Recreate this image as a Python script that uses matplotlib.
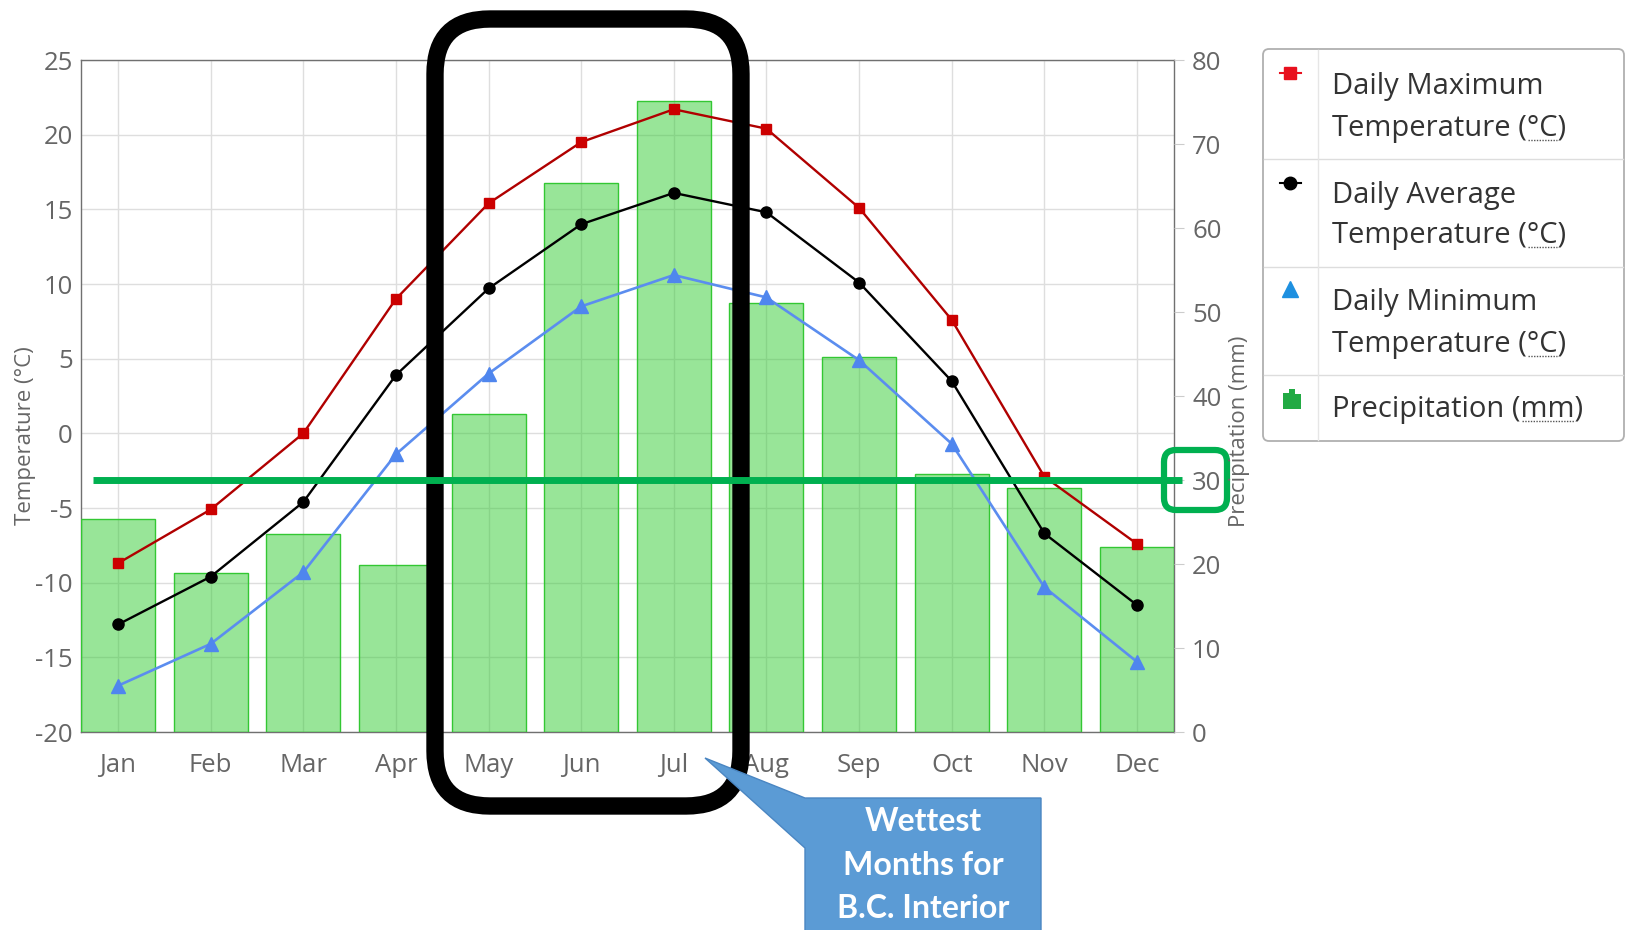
"""
B.C. Interior climate chart: temperature lines over precipitation bars,
with the presentation annotations (wettest months box, 30 mm marker).
"""
import matplotlib
matplotlib.use('Agg')
import matplotlib.pyplot as plt
from matplotlib.patches import FancyBboxPatch, Rectangle, Polygon

plt.rcParams['font.family'] = ['Open Sans', 'DejaVu Sans']
plt.rcParams['axes.unicode_minus'] = False

# ==================== data ====================
MONTHS = ['Jan', 'Feb', 'Mar', 'Apr', 'May', 'Jun',
          'Jul', 'Aug', 'Sep', 'Oct', 'Nov', 'Dec']
TEMP_MAX = [-8.7, -5.1, 0.0, 9.0, 15.4, 19.5, 21.7, 20.4, 15.1, 7.6, -2.9, -7.4]
TEMP_AVG = [-12.8, -9.6, -4.6, 3.9, 9.7, 14.0, 16.1, 14.8, 10.1, 3.5, -6.7, -11.5]
TEMP_MIN = [-16.9, -14.1, -9.3, -1.4, 4.0, 8.5, 10.6, 9.1, 4.9, -0.7, -10.3, -15.3]
PRECIP = [25.3, 18.9, 23.6, 19.9, 37.8, 65.4, 75.1, 51.1, 44.6, 30.7, 29.1, 22.0]
TEMP_TICKS = [-20, -15, -10, -5, 0, 5, 10, 15, 20, 25]
PRECIP_TICKS = [0, 10, 20, 30, 40, 50, 60, 70, 80]
HIGHLIGHT_PRECIP = 30

LEGEND_ROWS = [
    ('Daily Maximum', 'Temperature (', '°C', ')'),
    ('Daily Average', 'Temperature (', '°C', ')'),
    ('Daily Minimum', 'Temperature (', '°C', ')'),
    (None, 'Precipitation (', 'mm', ')'),
]

W, H = 1626, 930
TICK_GREY = '#666666'

fig = plt.figure(figsize=(W / 100, H / 100), dpi=100)
rect = [81 / W, 1 - 732 / H, (1174 - 81) / W, (732 - 60) / H]
x = list(range(len(MONTHS)))

# bottom layer: temperature axis with grid
ax_t = fig.add_axes(rect)
ax_t.set_xlim(-0.4, len(MONTHS) - 0.6)
ax_t.set_ylim(TEMP_TICKS[0], TEMP_TICKS[-1])
ax_t.set_yticks(TEMP_TICKS)
ax_t.set_xticks(x)
ax_t.set_xticklabels(MONTHS)
ax_t.grid(True, color='#dedede', linewidth=1)
ax_t.set_axisbelow(True)
ax_t.tick_params(axis='both', length=0, labelsize=18.5, labelcolor=TICK_GREY)
ax_t.tick_params(axis='x', pad=15)
ax_t.tick_params(axis='y', pad=6)
for sp in ax_t.spines.values():
    sp.set_color('#707070')
    sp.set_linewidth(1)

# middle layer: precipitation bars
ax_p = ax_t.twinx()
ax_p.bar(x, PRECIP, width=0.8, color=(0.2, 0.8, 0.2, 0.5),
         edgecolor=(0.2, 0.78, 0.2, 1.0), linewidth=1)
ax_p.set_ylim(PRECIP_TICKS[0], PRECIP_TICKS[-1])
ax_p.set_yticks(PRECIP_TICKS)
ax_p.tick_params(axis='y', length=7, color='#cccccc', pad=6,
                 labelsize=18.5, labelcolor=TICK_GREY)
for sp in ax_p.spines.values():
    sp.set_visible(False)

# top layer: temperature lines
ax_l = fig.add_axes(rect, sharex=ax_t, sharey=ax_t)
ax_l.axis('off')
ax_l.plot(x, TEMP_MAX, color='#b00000', linewidth=1.7, marker='s',
          markersize=7.5, markerfacecolor='#cc0000', markeredgecolor='#cc0000')
ax_l.plot(x, TEMP_AVG, color='black', linewidth=1.7, marker='o',
          markersize=8, markerfacecolor='black')
ax_l.plot(x, TEMP_MIN, color='#5b8def', linewidth=1.9, marker='^',
          markersize=10, markerfacecolor='#4f86ee', markeredgecolor='#4f86ee')

# ==================== overlay in pixel coords ====================
ov = fig.add_axes([0, 0, 1, 1])
ov.set_xlim(0, W)
ov.set_ylim(H, 0)
ov.axis('off')
ov.set_zorder(10)

# axis titles
ov.text(26, 436, 'Temperature (°C)', rotation=90, ha='center', va='center',
        fontsize=16, color=TICK_GREY)
ov.text(1239, 431, 'Precipitation (mm)', rotation=90, ha='center', va='center',
        fontsize=16, color=TICK_GREY)

# legend box
ov.add_patch(FancyBboxPatch((1263, 49), 361, 392,
                            boxstyle='round,pad=0,rounding_size=6',
                            facecolor='white', edgecolor='#b0b0b0', linewidth=1.3))
for yy in (159, 267, 375):
    ov.plot([1264, 1623], [yy, yy], color='#dddddd', linewidth=1)
ov.plot([1318, 1318], [50, 440], color='#e6e6e6', linewidth=1)

mk_y = [73, 183, 290, 400]
ov.plot([1280, 1301], [mk_y[0]] * 2, color='#e8101e', linewidth=1.5)
ov.plot([1290], [mk_y[0]], 's', color='#e8101e', markersize=8)
ov.plot([1280, 1301], [mk_y[1]] * 2, color='black', linewidth=1.5)
ov.plot([1290], [mk_y[1]], 'o', color='black', markersize=9)
ov.plot([1290], [mk_y[2] - 1], '^', color='#1e90e0', markersize=11)
# small bar-chart glyph
for bx, by in ((1283, 393), (1289, 389), (1295, 394)):
    ov.add_patch(Rectangle((bx, by), 6, 409 - by, facecolor='#22aa44',
                           edgecolor='none'))

renderer = fig.canvas.get_renderer()
text_kw = dict(fontsize=21, color='#333333', va='baseline', ha='left')
baselines = [(94, 136), (203, 243), (310, 352), (None, 417)]
for (top, pre, abbr, post), (b1, b2) in zip(LEGEND_ROWS, baselines):
    if top is not None:
        ov.text(1332, b1, top, **text_kw)
    ov.text(1332, b2, pre + abbr + post, **text_kw)
    # dotted underline below the abbreviation
    t_pre = ov.text(1332, b2, pre, **text_kw)
    t_abbr = ov.text(1332, b2, pre + abbr, **text_kw)
    x0 = t_pre.get_window_extent(renderer).x1
    x1 = t_abbr.get_window_extent(renderer).x1
    t_pre.remove()
    t_abbr.remove()
    ov.plot([x0 + 1, x1 - 1], [b2 + 4, b2 + 4], color='#555555',
            linewidth=1, linestyle=(0, (1, 1)))

# wettest months frame
ov.add_patch(FancyBboxPatch((435, 19), 306, 787,
                            boxstyle='round,pad=0,rounding_size=55',
                            facecolor='none', edgecolor='black', linewidth=12.5))

# 30 mm reference line and marker
y30 = ax_p.transData.transform((0, HIGHLIGHT_PRECIP))[1]
ov.plot([93, 1182], [H - y30, H - y30], color='#00b050', linewidth=5,
        solid_capstyle='butt')
ov.add_patch(FancyBboxPatch((1164, H - y30 - 30), 63, 60,
                            boxstyle='round,pad=0,rounding_size=12',
                            facecolor='none', edgecolor='#00b050', linewidth=4.5))

# callout
ov.add_patch(Polygon([(705, 758), (805, 798), (1041, 798), (1041, 940),
                      (805, 940), (805, 848)], closed=True,
                     facecolor='#5b9bd5', edgecolor='#4a86c2', linewidth=1))
for ty, line in zip((821, 865, 908), ('Wettest', 'Months for', 'B.C. Interior')):
    ov.text(923, ty, line, ha='center', va='center', fontsize=23,
            fontweight='bold', color='white', family=['Lato', 'DejaVu Sans'])

fig.savefig('out.png', dpi=100)
